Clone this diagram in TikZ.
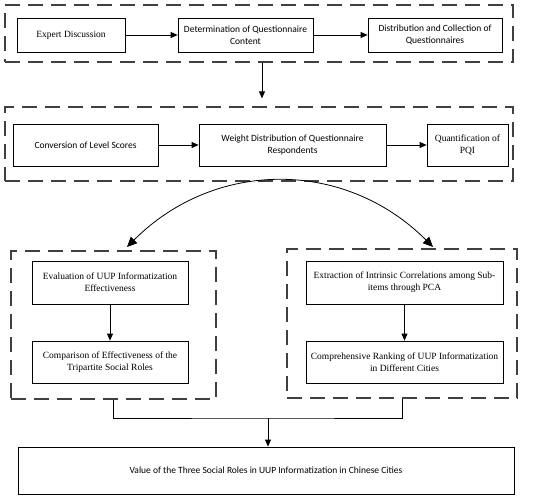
\documentclass[tikz,border=0pt]{standalone}
\usepackage{fontspec}
\setmainfont{Liberation Serif}
\newfontfamily\calibrifont{Carlito}
\usetikzlibrary{arrows.meta}
\begin{document}
\begin{tikzpicture}[x=1pt,y=-1pt,
  box/.style={draw,line width=0.8pt,align=center,inner sep=0pt,font=\fontsize{9.5}{12.3}\selectfont},
  calbox/.style={box,font=\calibrifont\fontsize{9.5}{12.3}\selectfont},
  grp/.style={draw=black!75,line width=1.3pt,dash pattern=on 15pt off 8pt,inner sep=0pt},
  arr/.style={line width=0.8pt,-{Triangle[length=7pt,width=6pt]}},
  ln/.style={line width=0.8pt}]
\useasboundingbox (0,0) rectangle (550,498);
% groups
\node[grp,minimum width=508pt,minimum height=57pt] (g1) at (259,33.5) {};
\node[grp,minimum width=508pt,minimum height=74pt] (g2) at (259,144) {};
\node[grp,minimum width=205pt,minimum height=148pt] (g3) at (113.5,325) {};
\node[grp,minimum width=230pt,minimum height=149pt] (g4) at (402,323.5) {};
% row 1
\node[box,minimum width=108pt,minimum height=34pt] (e1) at (71,35) {Expert Discussion};
\node[calbox,minimum width=135pt,minimum height=34pt] (e2) at (245.5,35) {Determination of Questionnaire\\Content};
\node[calbox,minimum width=134pt,minimum height=34pt] (e3) at (435,35) {Distribution and Collection of\\Questionnaires};
% row 2
\node[calbox,minimum width=145pt,minimum height=42pt] (c1) at (85.5,145) {Conversion of Level Scores};
\node[calbox,minimum width=187pt,minimum height=42pt] (c2) at (292.5,145) {Weight Distribution of Questionnaire\\Respondents};
\node[box,minimum width=81pt,minimum height=42pt] (c3) at (467.5,145) {Quantification of\\PQI};
% left group
\node[box,minimum width=156pt,minimum height=43pt] (l1) at (110,282.5) {Evaluation of UUP Informatization\\Effectiveness};
\node[box,minimum width=156pt,minimum height=42pt] (l2) at (110,362) {Comparison of Effectiveness of the\\Tripartite Social Roles};
% right group
\node[box,minimum width=197pt,minimum height=43pt] (r1) at (404.5,282.5) {Extraction of Intrinsic Correlations among Sub-\\items through PCA};
\node[box,minimum width=197pt,minimum height=42pt] (r2) at (404.5,362) {Comprehensive Ranking of UUP Informatization\\in Different Cities};
% final
\node[calbox,minimum width=496pt,minimum height=47pt] (fin) at (266,470.5) {Value of the Three Social Roles in UUP Informatization in Chinese Cities};
% connectors
\draw[arr] (e1) -- (e2);
\draw[arr] (e2) -- (e3);
\draw[arr] (c1) -- (c2);
\draw[arr] (c2) -- (c3);
\draw[arr] ([xshift=3pt]g1.south) -- ([xshift=3pt,yshift=8pt]g2.north);
\draw[arr] (l1) -- (l2);
\draw[arr] (r1.south) -- (r2.north);
\coordinate (la) at (127,247);
\coordinate (ra) at (433,247);
\draw[line width=0.8pt,{Triangle[length=10pt,width=9pt]}-{Triangle[length=10pt,width=9pt]}] (la) .. controls (215,159) and (345,159) .. (ra);
\coordinate (mj) at (268,418);
\draw[ln] ([xshift=-0.5pt]g3.south) |- (mj) -| (g4.south);
\draw[arr] (mj) -- (fin.north -| mj);
\end{tikzpicture}
\end{document}
